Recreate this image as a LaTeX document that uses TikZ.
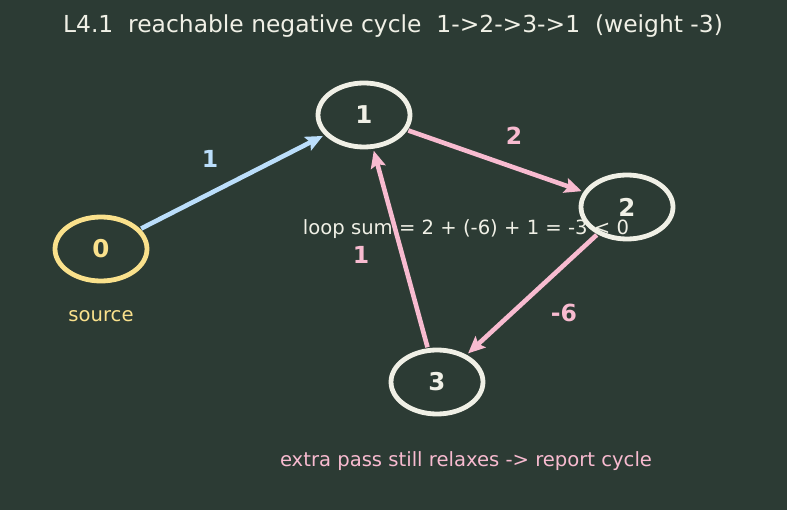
\documentclass[tikz,border=0pt]{standalone}
\usepackage{fontspec}
\setmainfont{DejaVu Sans}
\usetikzlibrary{shapes.geometric,arrows.meta}
\definecolor{bg}{RGB}{44,59,52}
\definecolor{nodew}{RGB}{240,240,230}
\definecolor{srcy}{RGB}{250,225,140}
\definecolor{edgeb}{RGB}{187,222,251}
\definecolor{edgep}{RGB}{248,187,208}
\tikzset{
  vert/.style={ellipse, draw=nodew, line width=4.8pt, minimum width=92pt, minimum height=64pt, inner sep=0pt, text=nodew, font=\fontsize{24.5}{28}\selectfont\bfseries},
  srcvert/.style={vert, draw=srcy, text=srcy},
  edg/.style={line width=4.6pt, -{Stealth[length=17pt,width=15pt,inset=3pt]}, shorten <=1pt, shorten >=2pt},
  elab/.style={font=\fontsize{23.5}{27}\selectfont\bfseries},
  note/.style={font=\fontsize{19.6}{23}\selectfont}
}
\begin{document}
\begin{tikzpicture}[x=1pt,y=-1pt]
\fill[bg] (0,0) rectangle (787,510);
\useasboundingbox (0,0) rectangle (787,510);
\node[text=nodew, font=\fontsize{23.4}{27}\selectfont] (title) at (393,26) {L4.1\ \ reachable negative cycle\ \ 1->2->3->1\ \ (weight -3)};
\node[note, text=nodew] (loop) at (466,229) {loop sum = 2 + (-6) + 1 = -3 < 0};
\node[srcvert] (n0) at (101,249) {0};
\node[vert] (n1) at (364,115) {1};
\node[vert] (n2) at (627,207) {2};
\node[vert] (n3) at (437,382) {3};
\node[note, text=srcy] (src) at (101,316) {source};
\node[note, text=edgep] (extra) at (466,461) {extra pass still relaxes -> report cycle};
\draw[edg, edgeb] (n0) -- (n1);
\draw[edg, edgep] (n1) -- (n2);
\draw[edg, edgep] (n2) -- (n3);
\draw[edg, edgep] (n3) -- (n1);
\node[elab, text=edgeb] (l01) at (210,159) {1};
\node[elab, text=edgep] (l12) at (514,136) {2};
\node[elab, text=edgep] (l23) at (564,313) {-6};
\node[elab, text=edgep] (l31) at (361,255) {1};
\end{tikzpicture}
\end{document}
